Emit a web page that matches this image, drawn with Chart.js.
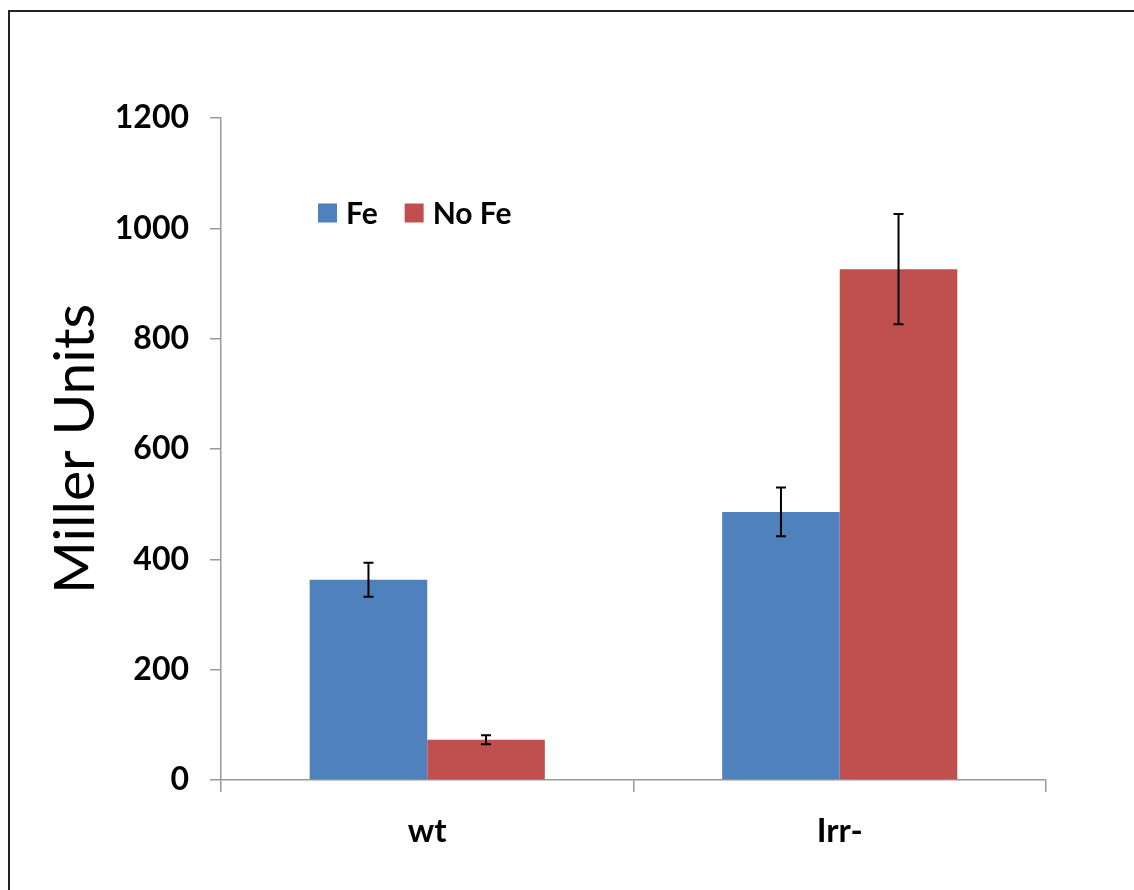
<!DOCTYPE html>
<html>
<head>
<meta charset="utf-8">
<title>Miller Units</title>
<script src="https://cdn.jsdelivr.net/npm/chart.js@4"></script>
<style>
    html, body { margin: 0; padding: 0; background: #fff; }
    #wrap { position: relative; width: 1134px; height: 890px; overflow: hidden; }
    #frame {
        position: absolute; left: 8px; top: 10px; width: 1140px; height: 900px;
        border-left: 2.5px solid #222; border-top: 2.5px solid #222; box-sizing: border-box;
    }
    canvas { position: absolute; left: 0; top: 0; }
</style>
</head>
<body>
<div id="wrap">
    <div id="frame"></div>
    <canvas id="chart" width="1134" height="890"></canvas>
</div>
<script>
// ===== data =====
const strains = ['wt', 'Irr-'];
const seriesNames = ['Fe', 'No Fe'];
const feValues = [363, 486];
const feErrors = [31, 44];
const noFeValues = [73, 926];
const noFeErrors = [8, 100];
const yTicks = [0, 200, 400, 600, 800, 1000, 1200];

const BLUE = '#4F81BD';
const RED = '#C0504D';
const FONT = 'Lato, "Open Sans", sans-serif';

// error bars (mean ± err) drawn on top of each bar
const errorBars = {
    id: 'errorBars',
    afterDatasetsDraw(chart) {
        const { ctx, scales: { y } } = chart;
        ctx.save();
        ctx.strokeStyle = '#000';
        ctx.lineWidth = 2;
        chart.data.datasets.forEach((ds, i) => {
            const meta = chart.getDatasetMeta(i);
            meta.data.forEach((bar, j) => {
                const v = ds.data[j];
                const e = ds.errors[j];
                const top = y.getPixelForValue(v + e);
                const bot = y.getPixelForValue(v - e);
                const cap = 5;
                ctx.beginPath();
                ctx.moveTo(bar.x, top); ctx.lineTo(bar.x, bot);
                ctx.moveTo(bar.x - cap, top); ctx.lineTo(bar.x + cap, top);
                ctx.moveTo(bar.x - cap, bot); ctx.lineTo(bar.x + cap, bot);
                ctx.stroke();
            });
        });
        ctx.restore();
    }
};

// small legend inside the plot area
const innerLegend = {
    id: 'innerLegend',
    afterDraw(chart) {
        const { ctx, chartArea } = chart;
        let x = chartArea.left + 97;
        const yMid = chartArea.top + 95;
        const box = 19;
        ctx.save();
        ctx.font = 'bold 30px ' + FONT;
        ctx.textBaseline = 'middle';
        chart.data.datasets.forEach(ds => {
            ctx.fillStyle = ds.backgroundColor;
            ctx.fillRect(x, yMid - box / 2, box, box);
            x += box + 9;
            ctx.fillStyle = '#000';
            ctx.fillText(ds.label, x, yMid + 1);
            x += ctx.measureText(ds.label).width + 27;
        });
        ctx.restore();
    }
};

const ctx = document.getElementById('chart').getContext('2d');
new Chart(ctx, {
    type: 'bar',
    data: {
        labels: strains,
        datasets: [
            { label: seriesNames[0], data: feValues, errors: feErrors, backgroundColor: BLUE },
            { label: seriesNames[1], data: noFeValues, errors: noFeErrors, backgroundColor: RED }
        ]
    },
    options: {
        responsive: false,
        animation: false,
        events: [],
        layout: { padding: { top: 118, right: 88, left: 0, bottom: 0 } },
        datasets: {
            bar: { categoryPercentage: 0.57, barPercentage: 1.0 }
        },
        plugins: {
            legend: { display: false },
            tooltip: { enabled: false }
        },
        scales: {
            x: {
                grid: { offset: true, drawOnChartArea: false, color: '#999', lineWidth: 1.5, tickLength: 12 },
                border: { color: '#999', width: 1.5 },
                ticks: { color: '#000', font: { family: FONT, size: 33, weight: 'bold' }, padding: 20 },
                afterFit(scale) { scale.height = 110; }
            },
            y: {
                min: 0,
                max: 1200,
                afterBuildTicks(scale) { scale.ticks = yTicks.map(v => ({ value: v })); },
                grid: { drawOnChartArea: false, color: '#999', lineWidth: 1.5, tickLength: 11 },
                border: { color: '#999', width: 1.5 },
                ticks: {
                    color: '#000',
                    font: { family: FONT, size: 32, weight: 'bold' },
                    padding: 21,
                    callback: v => String(v)
                },
                title: {
                    display: true,
                    text: 'Miller Units',
                    color: '#000',
                    font: { family: FONT, size: 57 },
                    padding: { top: 41, bottom: 0 }
                },
                afterFit(scale) { scale.width = 221; }
            }
        }
    },
    plugins: [errorBars, innerLegend]
});
</script>
</body>
</html>
